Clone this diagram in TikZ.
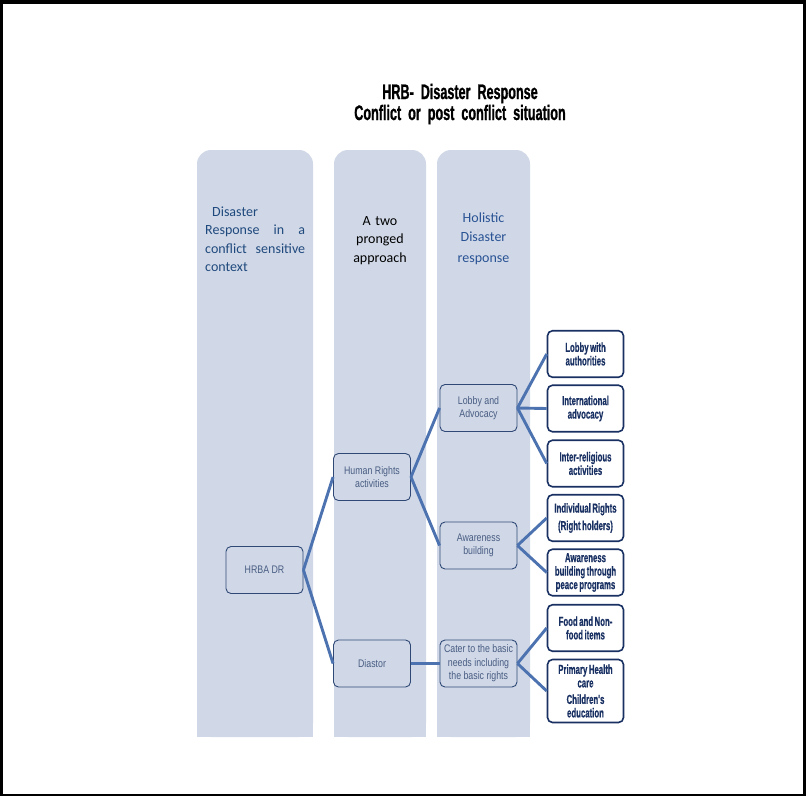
\documentclass[tikz,border=0pt]{standalone}
\usepackage{fontspec}
\setmainfont{Liberation Sans}
\newfontfamily\calib{Carlito}
\newfontfamily\titlef[FakeStretch=0.6,WordSpace=0.6,BoldFeatures={FakeBold=1}]{Liberation Sans}
\newfontfamily\midf[FakeStretch=0.8]{Liberation Sans}
\newfontfamily\boxf[FakeStretch=0.6,WordSpace=0.7,BoldFeatures={FakeBold=0.5}]{Liberation Sans}
\definecolor{colfill}{RGB}{208,216,231}
\definecolor{midborder}{RGB}{47,72,118}
\definecolor{midtext}{RGB}{72,92,130}
\definecolor{navy}{RGB}{25,48,98}
\definecolor{connc}{RGB}{76,114,176}
\definecolor{cone}{RGB}{31,73,125}
\definecolor{cthree}{RGB}{40,82,148}
\begin{document}
\begin{tikzpicture}[x=1pt,y=-1pt,
  midbox/.style={draw=midborder, line width=0.9pt, fill=colfill, rounded corners=5pt,
    minimum width=77pt, minimum height=47pt, inner sep=1pt, align=center,
    font=\midf\fontsize{11}{13.5}\selectfont, text=midtext},
  rbox/.style={draw=navy, line width=1.6pt, fill=white, rounded corners=5pt,
    minimum width=76pt, minimum height=46.5pt, inner sep=1pt, align=center,
    font=\boxf\bfseries\fontsize{13}{13.5}\selectfont, text=navy},
  conn/.style={draw=connc, line width=2.9pt},
  coltext/.style={inner sep=0pt, font=\calib\fontsize{14}{18.5}\selectfont}]
\useasboundingbox (0,0) rectangle (806,796);
\fill[black] (0,0) rectangle (806,796);
\fill[white] (3,4) rectangle (803,794);
% columns
\fill[colfill, rounded corners=14pt] (197,150) rectangle (313,737);
\fill[colfill] (197,700) rectangle (313,737);
\fill[colfill, rounded corners=14pt] (334,150) rectangle (426,737);
\fill[colfill] (334,700) rectangle (426,737);
\fill[colfill, rounded corners=14pt] (437,150) rectangle (530,737);
\fill[colfill] (437,700) rectangle (530,737);
% title
\node[anchor=base, text width=300pt, align=center, inner sep=0pt,
  font=\titlef\bfseries\fontsize{21}{21}\selectfont] (title) at (460,99)
  {HRB- Disaster Response\\Conflict or post conflict situation};
% column headers
\node[coltext, anchor=base west, text width=100pt, align=left, text=cone] (c1) at (205,216)
  {\hspace*{7pt}Disaster\\Response\hfill in\hfill a\\conflict\hfill sensitive\\context};
\node[coltext, anchor=base, text width=85pt, align=center, text=black] (c2) at (380,225)
  {A two\\pronged\\approach};
\node[coltext, anchor=base, text width=85pt, align=center, text=cthree] (c3) at (483.5,222.5)
  {Holistic\\Disaster\\[3pt]response};
% middle nodes
\node[midbox] (hrba) at (264.5,570) {HRBA DR};
\node[midbox] (hr) at (372,477) {Human Rights\\activities};
\node[midbox] (dia) at (372,663.5) {Diastor};
\node[midbox] (lob) at (478.5,408) {Lobby and\\Advocacy};
\node[midbox] (awa) at (478.5,545.5) {Awareness\\building};
\node[midbox] (cat) at (478.5,663.5) {Cater to the basic\\needs including\\the basic rights};
% right boxes
\node[rbox] (r1) at (585.5,354) {Lobby with\\authorities};
\node[rbox] (r2) at (585.5,408.5) {International\\advocacy};
\node[rbox] (r3) at (585.5,463.5) {Inter-religious\\activities};
\node[rbox] (r4) at (585.5,518) {Individual Rights\\[4pt](Right holders)};
\node[rbox] (r5) at (585.5,572.5) {Awareness\\building through\\peace programs};
\node[rbox] (r6) at (585.5,628) {Food and Non-\\food items};
\node[rbox, minimum height=63pt] (r7) at (585.5,691) {Primary Health\\care\\[3pt]Children's\\education};
% connectors
\draw[conn] (hrba.east) -- (hr.west);
\draw[conn] (hrba.east) -- (dia.west);
\draw[conn] (hr.east) -- (lob.west);
\draw[conn] (hr.east) -- (awa.west);
\draw[conn] (dia.east) -- (cat.west);
\draw[conn] (lob.east) -- (r1.west);
\draw[conn] (lob.east) -- (r2.west);
\draw[conn] (lob.east) -- (r3.west);
\draw[conn] (awa.east) -- (r4.west);
\draw[conn] (awa.east) -- (r5.west);
\draw[conn] (cat.east) -- (r6.west);
\draw[conn] (cat.east) -- (r7.west);
\end{tikzpicture}
\end{document}
